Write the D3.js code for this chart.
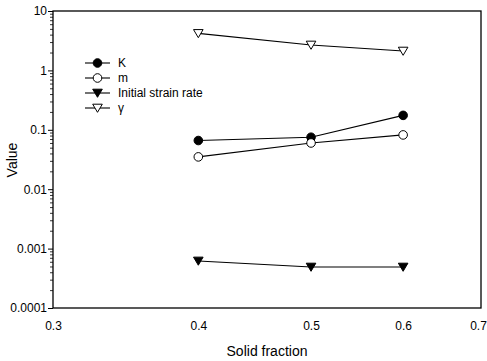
<!DOCTYPE html>
<html>
<head>
<meta charset="utf-8">
<script src="https://cdn.jsdelivr.net/npm/d3@7"></script>
<style>
  body { margin: 0; background: #fff; }
  svg { display: block; font-family: "Liberation Sans", Arial, sans-serif; }
</style>
</head>
<body>
<div id="chart"></div>
<script>
const solidFraction = [0.4, 0.5, 0.6];
const kValues = [0.066, 0.075, 0.175];
const mValues = [0.035, 0.06, 0.082];
const strainRate = [0.00062, 0.00049, 0.00049];
const gammaValues = [4.2, 2.68, 2.12];
const xTicks = [0.3, 0.4, 0.5, 0.6, 0.7];
const yTicks = [0.0001, 0.001, 0.01, 0.1, 1, 10];
const yTickLabels = ['0.0001', '0.001', '0.01', '0.1', '1', '10'];

const series = [
  { name: 'K', values: kValues, shape: 'circle', fill: '#000' },
  { name: 'm', values: mValues, shape: 'circle', fill: '#fff' },
  { name: 'Initial strain rate', values: strainRate, shape: 'tri', fill: '#000' },
  { name: 'γ', values: gammaValues, shape: 'tri', fill: '#fff' }
];

const W = 487, H = 361;
const margin = { top: 11, right: 6, bottom: 53, left: 53 };
const width = 481 - margin.left;
const height = 308 - margin.top;

const svg = d3.select('#chart').append('svg')
  .attr('width', W)
  .attr('height', H);

const g = svg.append('g')
  .attr('transform', `translate(${margin.left},${margin.top})`);

const x = d3.scaleLog().domain([0.3, 0.7]).range([0, width]);
const y = d3.scaleLog().domain([0.0001, 10]).range([height, 0]);

// minor log ticks on the y axis
const minor = [];
for (let e = -4; e < 1; e++) {
  for (let k = 2; k <= 9; k++) minor.push(k * Math.pow(10, e));
}
g.append('g')
  .call(d3.axisLeft(y).tickValues(minor).tickSize(3).tickFormat(''))
  .call(s => s.select('.domain').remove())
  .selectAll('line').attr('stroke', '#000').attr('stroke-width', 0.8);

const yAxis = g.append('g')
  .call(d3.axisLeft(y).tickValues(yTicks).tickSize(5)
    .tickFormat((d, i) => yTickLabels[i]));
yAxis.select('.domain').remove();
yAxis.selectAll('.tick text')
  .attr('x', -6)
  .style('font-size', '12px');

const xAxis = g.append('g')
  .attr('transform', `translate(0,${height})`)
  .call(d3.axisBottom(x).tickValues(xTicks).tickSize(0).tickFormat(d3.format('.1f')));
xAxis.select('.domain').remove();
xAxis.selectAll('.tick text')
  .attr('y', 13)
  .attr('dx', d => d === 0.7 ? -3 : 0)
  .style('font-size', '12px');

// frame
g.append('rect')
  .attr('width', width)
  .attr('height', height)
  .attr('fill', 'none')
  .attr('stroke', '#000')
  .attr('stroke-width', 1.3);

const line = d3.line()
  .x((d, i) => x(solidFraction[i]))
  .y(d => y(d));

function drawMarker(sel, s) {
  if (s.shape === 'circle') {
    sel.append('circle').attr('r', 4.3)
      .attr('fill', s.fill).attr('stroke', '#000').attr('stroke-width', 1);
  } else {
    sel.append('path').attr('d', 'M-4.8,-3.8L4.8,-3.8L0,4.3Z')
      .attr('fill', s.fill).attr('stroke', '#000').attr('stroke-width', 1);
  }
}

series.forEach(s => {
  g.append('path')
    .datum(s.values)
    .attr('d', line)
    .attr('fill', 'none')
    .attr('stroke', '#000')
    .attr('stroke-width', 1.1);
  s.values.forEach((v, i) => {
    const m = g.append('g')
      .attr('transform', `translate(${x(solidFraction[i])},${y(v)})`);
    drawMarker(m, s);
  });
});

// legend
const legend = svg.append('g').attr('transform', 'translate(85,63)');
series.forEach((s, i) => {
  const row = legend.append('g').attr('transform', `translate(0,${i * 15})`);
  row.append('line').attr('x1', 0).attr('x2', 25)
    .attr('stroke', '#000').attr('stroke-width', 1.1);
  drawMarker(row.append('g').attr('transform', 'translate(12.5,0)'), s);
  row.append('text')
    .attr('x', 33).attr('dy', '0.35em')
    .style('font-size', '12px')
    .text(s.name);
});

svg.append('text')
  .attr('x', 267).attr('y', 356)
  .attr('text-anchor', 'middle')
  .style('font-size', '14px')
  .text('Solid fraction');

svg.append('text')
  .attr('transform', 'translate(17,160) rotate(-90)')
  .attr('text-anchor', 'middle')
  .style('font-size', '14px')
  .text('Value');
</script>
</body>
</html>
